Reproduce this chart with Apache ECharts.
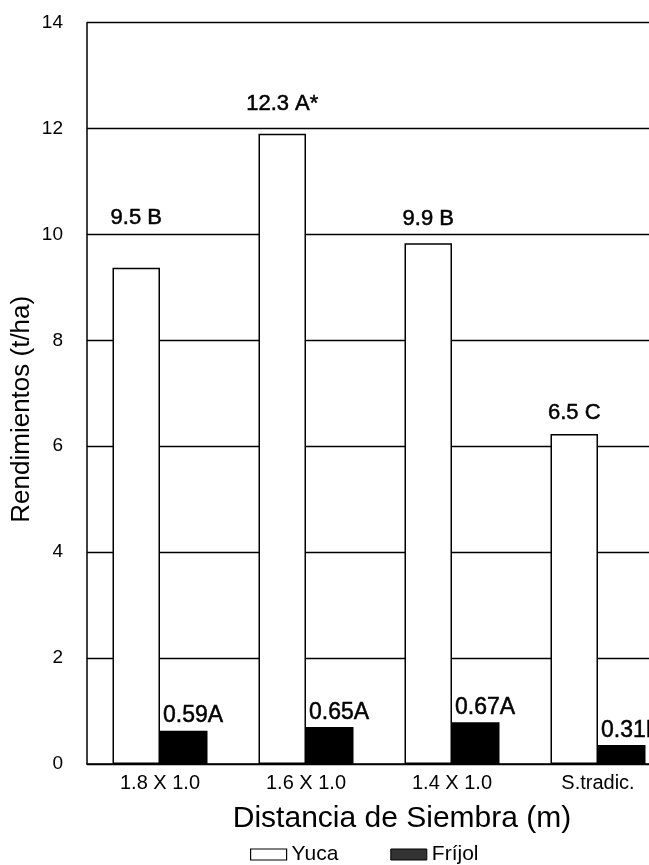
<!DOCTYPE html>
<html>
<head>
<meta charset="utf-8">
<script src="https://cdn.jsdelivr.net/npm/echarts@6/dist/echarts.min.js"></script>
<style>html,body{margin:0;padding:0;background:#fff}#c{width:649px;height:865px}</style>
</head>
<body>
<div id="c"></div>
<script>
const categories = ['1.8 X 1.0', '1.6 X 1.0', '1.4 X 1.0', 'S.tradic.'];
const yuca = [9.37, 11.9, 9.83, 6.23];
const frijol = [0.63, 0.70, 0.79, 0.36];
const yucaLabels = ['9.5 B', '12.3 A*', '9.9 B', '6.5 C'];
const frijolLabels = ['0.59A', '0.65A', '0.67A', '0.31B'];

// styling only: gap between each Yuca bar top and its label
const yucaLabelGap = [39, 19, 13, 10];

const SANS = "'Liberation Sans', Arial, sans-serif";

const chart = echarts.init(document.getElementById('c'), null, {renderer: 'canvas'});
chart.setOption({
  animation: false,
  backgroundColor: '#fff',
  grid: {left: 87, width: 584, top: 22.5, bottom: 101, containLabel: false, outerBoundsMode: 'none'},
  legend: {
    left: 245, top: 839,
    itemWidth: 36, itemHeight: 11, itemGap: 52,
    icon: 'rect',
    textStyle: {fontFamily: SANS, fontSize: 21, color: '#000'},
    data: [
      {name: 'Yuca', itemStyle: {color: '#fff', borderColor: '#000', borderWidth: 1.2}},
      {name: 'Fríjol', itemStyle: {color: '#333', borderColor: '#000', borderWidth: 1}}
    ]
  },
  xAxis: {
    type: 'category',
    data: categories,
    name: 'Distancia de Siembra (m)',
    nameLocation: 'middle',
    nameGap: 40,
    nameMoveOverlap: false,
    nameTextStyle: {fontFamily: SANS, fontSize: 30, color: '#000', padding: [0,0,0,46]},
    axisLine: {lineStyle: {color: '#000', width: 1.5}},
    axisTick: {show: false},
    axisLabel: {fontFamily: SANS, fontSize: 20, color: '#000', margin: 9}
  },
  yAxis: {
    type: 'value',
    min: 0, max: 14, interval: 2,
    name: 'Rendimientos (t/ha)',
    nameLocation: 'middle',
    nameGap: 52,
    nameMoveOverlap: false,
    nameRotate: 90,
    nameTextStyle: {fontFamily: SANS, fontSize: 26, color: '#000', padding: [0,32,0,0]},
    axisLine: {show: true, lineStyle: {color: '#000', width: 1.5}},
    axisTick: {show: false},
    splitLine: {lineStyle: {color: '#000', width: 1.3}},
    axisLabel: {fontFamily: SANS, fontSize: 19, color: '#000', margin: 24}
  },
  series: [
    {
      name: 'Yuca', type: 'bar', barWidth: 47.5, barGap: '0%',
      itemStyle: {color: '#fff', borderColor: '#000', borderWidth: 1.5},
      data: yuca.map((v, i) => ({
        value: v,
        label: {
          show: true, position: 'top', distance: yucaLabelGap[i],
          formatter: yucaLabels[i],
          fontFamily: SANS, fontSize: 22, color: '#000',
          textBorderColor: '#000', textBorderWidth: 0.5
        }
      }))
    },
    {
      name: 'Fríjol', type: 'bar', barWidth: 47.5, barGap: '0%',
      itemStyle: {color: '#000'},
      data: frijol.map((v, i) => ({
        value: v,
        label: {
          show: true, position: [3, -3], align: 'left', verticalAlign: 'bottom',
          formatter: frijolLabels[i],
          fontFamily: SANS, fontSize: 23, color: '#000',
          textBorderColor: '#000', textBorderWidth: 0.5
        }
      }))
    }
  ]
});
</script>
</body>
</html>
